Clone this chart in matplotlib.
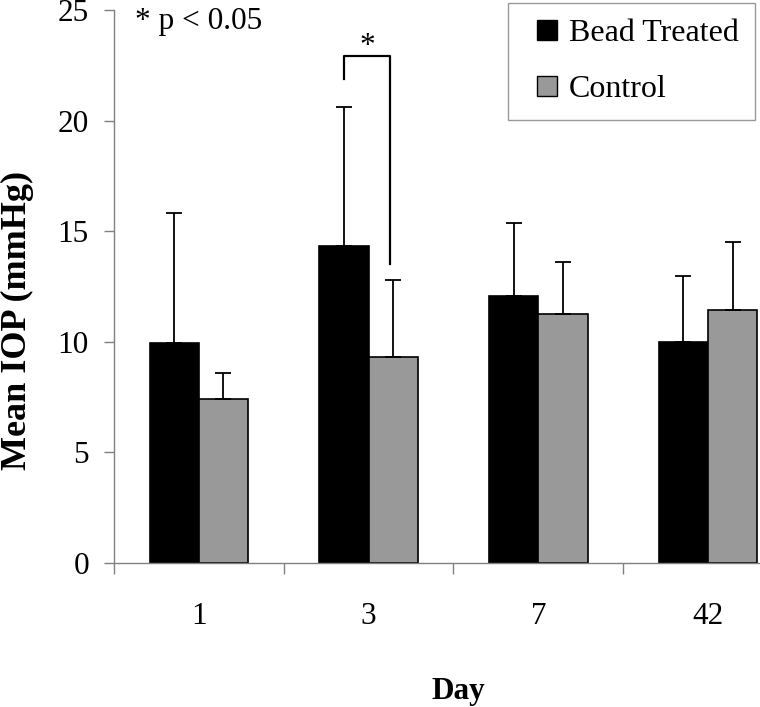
import matplotlib
matplotlib.use("Agg")
import matplotlib.pyplot as plt
from matplotlib.lines import Line2D
import numpy as np

days = ["1", "3", "7", "42"]
bead = [9.92, 14.32, 12.05, 10.0]
bead_err = [5.91, 6.31, 3.30, 2.99]
control = [7.42, 9.31, 11.27, 11.45]
control_err = [1.16, 3.50, 2.35, 3.05]
series_names = ["Bead Treated", "Control"]
series_colors = ["black", "#999999"]

plt.rcParams['font.family'] = ['Liberation Serif', 'DejaVu Serif']
FS = 22.5

W, H = 760, 707
fig = plt.figure(figsize=(W / 100, H / 100), dpi=100)
ax = fig.add_axes([0.15, 0.204, 0.8934, 0.7819])

x = np.arange(len(days)) + 0.5
w = 0.29
ekw = dict(ecolor='black', elinewidth=1.3, capsize=6, capthick=1.3)
ax.bar(x - w/2, bead, w, color=series_colors[0], edgecolor='black', linewidth=1.2,
       yerr=[np.zeros(4), bead_err], error_kw=ekw, zorder=2)
ax.bar(x + w/2, control, w, color=series_colors[1], edgecolor='black', linewidth=1.2,
       yerr=[np.zeros(4), control_err], error_kw=ekw, zorder=2)

ax.set_xlim(0, 4)
ax.set_ylim(0, 25)
ax.set_yticks([0, 5, 10, 15, 20, 25])
ax.set_xticks([0, 1, 2, 3, 4])
ax.set_xticklabels([])
ax.set_xticks(x, minor=True)
ax.set_xticklabels(days, minor=True, fontsize=FS)
ax.tick_params(axis='x', which='major', direction='out', length=8, color='#808080', width=1)
ax.tick_params(axis='x', which='minor', length=0, pad=28)
ax.tick_params(axis='y', direction='out', length=7, color='#808080', width=1, pad=11, labelsize=FS)

for s in ['top', 'right']:
    ax.spines[s].set_visible(False)
for s in ['left', 'bottom']:
    ax.spines[s].set_color('#808080')
    ax.spines[s].set_linewidth(1)

fig.text(17 / W, 1 - 320 / H, 'Mean IOP (mmHg)', fontsize=26, fontweight='bold',
         rotation=90, ha='center', va='center')
fig.text(458 / W, 1 - 691 / H, 'Day', fontsize=FS, fontweight='bold',
         ha='center', va='center')

# significance bracket on day 3
xl = x[1] - w/2
xr = x[1] + w/2 - 0.02
ax.plot([xl, xl, xr, xr], [21.9, 22.9, 22.9, 13.5], color='black', lw=1.6, zorder=3)
ax.text((xl + xr) / 2, 23.35, '*', fontsize=FS, ha='center', va='center')

fig.text(135 / W, 1 - 22 / H, '* p < 0.05', fontsize=FS, ha='left', va='center')

handles = [Line2D([], [], linestyle='none', marker='s', markersize=15,
                  markerfacecolor=c, markeredgecolor='black', markeredgewidth=1)
           for c in series_colors]
leg = ax.legend(handles, series_names, loc='upper left',
                bbox_to_anchor=((508 - 114) / 679, 1.0 + 7 / 552.7),
                fontsize=23, frameon=True, fancybox=False, edgecolor='#808080',
                handlelength=1.45, handletextpad=-0.05,
                labelspacing=0.82, borderpad=0.5, borderaxespad=0)
leg.get_frame().set_linewidth(1)

fig.savefig('out.png', dpi=100)
